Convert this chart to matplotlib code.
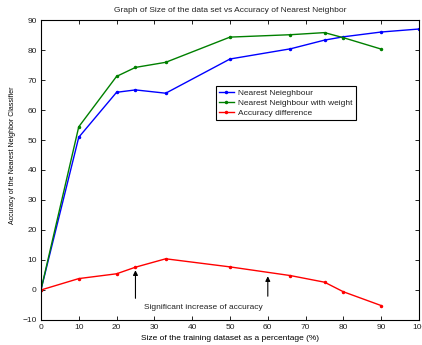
import matplotlib.pyplot as plt

plt.rcParams['font.family'] = ['Liberation Sans', 'DejaVu Sans']
plt.rcParams['text.color'] = '#222222'

# Training set size (%)
x_nn = [0, 10, 20, 25, 33, 50, 66, 75, 80, 90, 100]
acc_nn = [0, 50.9, 65.9, 66.7, 65.6, 77.0, 80.4, 83.3, 84.4, 86.0, 87.0]

x_w = [0, 10, 20, 25, 33, 50, 66, 75, 80, 90]
acc_w = [0, 54.4, 71.2, 74.2, 75.9, 84.3, 85.1, 85.8, 84.1, 80.3]
acc_diff = [0, 3.8, 5.4, 7.6, 10.4, 7.7, 4.8, 2.6, -0.6, -5.2]

xticks = [0, 10, 20, 30, 40, 50, 60, 70, 80, 90, 100]
yticks = [-10, 0, 10, 20, 30, 40, 50, 60, 70, 80, 90]

fig = plt.figure(figsize=(4.22, 3.45), dpi=100)
ax = fig.add_axes([0.097, 0.0725, 0.896, 0.8695])

ax.plot(x_nn, acc_nn, color='blue', marker='.', markersize=3, linewidth=1,
        label='Nearest Neieghbour')
ax.plot(x_w, acc_w, color='green', marker='.', markersize=3, linewidth=1,
        label='Nearest Neighbour with weight')
ax.plot(x_w, acc_diff, color='red', marker='.', markersize=3, linewidth=1,
        label='Accuracy difference')

# arrows pointing at the difference curve
for xa, y0, y1 in [(25, -3.7, 7.5), (60, -3.0, 5.5)]:
    ax.annotate('', xy=(xa, y1), xytext=(xa, y0),
                arrowprops=dict(arrowstyle='-|>', color='black', lw=0.8,
                                mutation_scale=7))
ax.text(27.2, -5.7, 'Significant increase of accuracy', fontsize=6,
        va='center', ha='left')

ax.set_xlim(0, 100)
ax.set_ylim(-10, 90)
ax.set_xticks(xticks)
ax.set_yticks(yticks)
ax.tick_params(direction='in', top=True, right=True, labelsize=6, length=3,
               width=0.6, pad=3, labelcolor='#222222')
for s in ax.spines.values():
    s.set_linewidth(0.8)

ax.set_title('Graph of Size of the data set vs Accuracy of Nearest Neighbor',
             fontsize=6, pad=6)
ax.set_xlabel('Size of the training dataset as a percentage (%)', fontsize=6,
              labelpad=3)
ax.set_ylabel('Accuracy of the Nearest Neighbor Classifier', fontsize=5,
              labelpad=6)
ax.yaxis.set_label_coords(-0.065, 0.55)

leg = ax.legend(loc='upper left', bbox_to_anchor=(0.462, 0.781), fontsize=6,
                fancybox=False, framealpha=1, edgecolor='black',
                handlelength=1.8, borderpad=0.4, labelspacing=0.25,
                handletextpad=0.5, borderaxespad=0)
leg.get_frame().set_linewidth(0.8)

fig.savefig('out.png', dpi=100)
